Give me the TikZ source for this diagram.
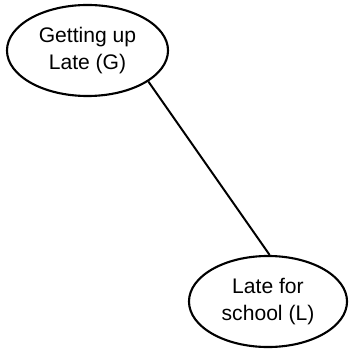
\documentclass[tikz,border=0pt]{standalone}
\usepackage{fontspec}
\setmainfont{Liberation Sans}
\usetikzlibrary{shapes.geometric}
\begin{document}
\begin{tikzpicture}[x=0.025cm,y=-0.025cm,
        event/.style={draw, ellipse, line width=1.5pt, inner sep=0pt,
          align=center, font=\fontsize{15}{19}\selectfont},
        link/.style={line width=1.4pt}]
        \useasboundingbox (0,0) rectangle (349,352);
        \node[event, minimum width=4.025cm, minimum height=2.275cm] (g) at (87.5,50.5) {Getting up\\Late (G)};
        \node[event, minimum width=3.95cm, minimum height=2.275cm] (l) at (268,301.5) {Late for\\school (L)};
        \draw[link] (g.-27) -- (l.88);
    \end{tikzpicture}
\end{document}
